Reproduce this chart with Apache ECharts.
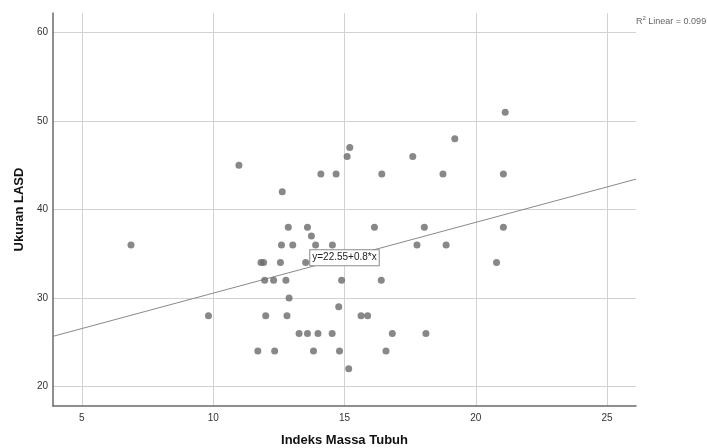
<!DOCTYPE html>
<html>
<head>
<meta charset="utf-8">
<script src="https://cdn.jsdelivr.net/npm/echarts@6/dist/echarts.min.js"></script>
<style>html,body{margin:0;padding:0;background:#fff;}#c{width:707px;height:448px;}</style>
</head>
<body>
<div id="c"></div>
<script>
// Data (Indeks Massa Tubuh vs Ukuran LASD)
const imt = [6.87, 9.82, 10.98, 11.70, 11.82, 11.92, 11.96, 12.0, 12.30, 12.34, 12.56, 12.6, 12.63, 12.77, 12.81, 12.86, 12.89, 13.03, 13.27, 13.52, 13.59, 13.59, 13.74, 13.82, 13.9, 13.99, 14.1, 14.53, 14.54, 14.68, 14.78, 14.81, 14.89, 15.1, 15.16, 15.2, 15.63, 15.88, 16.14, 16.40, 16.42, 16.58, 16.82, 17.6, 17.76, 18.04, 18.10, 18.75, 18.87, 19.2, 20.79, 21.05, 21.05, 21.12];
const lasd = [36, 28, 45, 24, 34, 34, 32, 28, 32, 24, 34, 36, 42, 32, 28, 38, 30, 36, 26, 34, 38, 26, 37, 24, 36, 26, 44, 26, 36, 44, 29, 24, 32, 46, 22, 47, 28, 28, 38, 32, 44, 24, 26, 46, 36, 38, 26, 44, 36, 48, 34, 44, 38, 51];
const xTicks = [5, 10, 15, 20, 25];
const yTicks = [20, 30, 40, 50, 60];
const fitIntercept = 22.55;
const fitSlope = 0.8;
const rSquared = '0.099';
const xRange = [3.9, 26.1];
const yRange = [17.8, 62.2];
const labelX = 15.0;

const points = imt.map((x, i) => [x, lasd[i]]);
const fit = x => fitIntercept + fitSlope * x;

const chart = echarts.init(document.getElementById('c'), null, {renderer: 'canvas'});
const font = 'Liberation Sans, Arial, sans-serif';
chart.setOption({
  animation: false,
  backgroundColor: '#fff',
  grid: {left: 53, right: 71, top: 13, bottom: 42, outerBoundsMode: 'none', containLabel: false},
  xAxis: {
    type: 'value', min: xRange[0], max: xRange[1],
    name: 'Indeks Massa Tubuh', nameLocation: 'middle', nameGap: 28,
    nameTextStyle: {fontFamily: font, fontSize: 13, fontWeight: 'bold', color: '#111'},
    axisLine: {show: true, lineStyle: {color: '#6a6a6a', width: 1.5}},
    axisTick: {show: false, customValues: xTicks},
    axisLabel: {customValues: xTicks, fontFamily: font, fontSize: 10, color: '#333', margin: 7},
    splitLine: {show: true, lineStyle: {color: '#d2d2d2', width: 1}}
  },
  yAxis: {
    type: 'value', min: yRange[0], max: yRange[1],
    name: 'Ukuran LASD', nameLocation: 'middle', nameGap: 24, nameRotate: 90,
    nameTextStyle: {fontFamily: font, fontSize: 13, fontWeight: 'bold', color: '#111'},
    axisLine: {show: true, lineStyle: {color: '#6a6a6a', width: 1.5}},
    axisTick: {show: false, customValues: yTicks},
    axisLabel: {customValues: yTicks, fontFamily: font, fontSize: 10, color: '#333', margin: 5},
    splitLine: {show: true, lineStyle: {color: '#d2d2d2', width: 1}}
  },
  series: [
    {
      type: 'line',
      data: [[xRange[0], fit(xRange[0])], [xRange[1], fit(xRange[1])]],
      showSymbol: false, symbol: 'none',
      lineStyle: {color: '#8a8a8a', width: 1},
      z: 2,
      markPoint: {
        symbol: 'rect', symbolSize: 0,
        data: [{coord: [labelX, fit(labelX)]}],
        label: {
          show: true, position: 'inside',
          formatter: 'y=' + fitIntercept + '+' + fitSlope + '*x',
          fontFamily: font, fontSize: 10, color: '#222',
          backgroundColor: '#fff', borderColor: '#8a8a8a', borderWidth: 1,
          padding: [3, 2, 2, 2]
        }
      }
    },
    {
      type: 'scatter',
      data: points,
      symbolSize: 7,
      itemStyle: {color: '#6a6a6a'},
      z: 3
    }
  ],
  graphic: [{
    type: 'text', left: 636, top: 15,
    style: {
      text: '{a|R}{s|2}{a| Linear = ' + rSquared + '}',
      rich: {
        a: {fontFamily: font, fontSize: 9, fill: '#666', verticalAlign: 'bottom'},
        s: {fontFamily: font, fontSize: 6, fill: '#666', verticalAlign: 'top', padding: [0, 0, 5, 0]}
      }
    }
  }]
});
</script>
</body>
</html>
